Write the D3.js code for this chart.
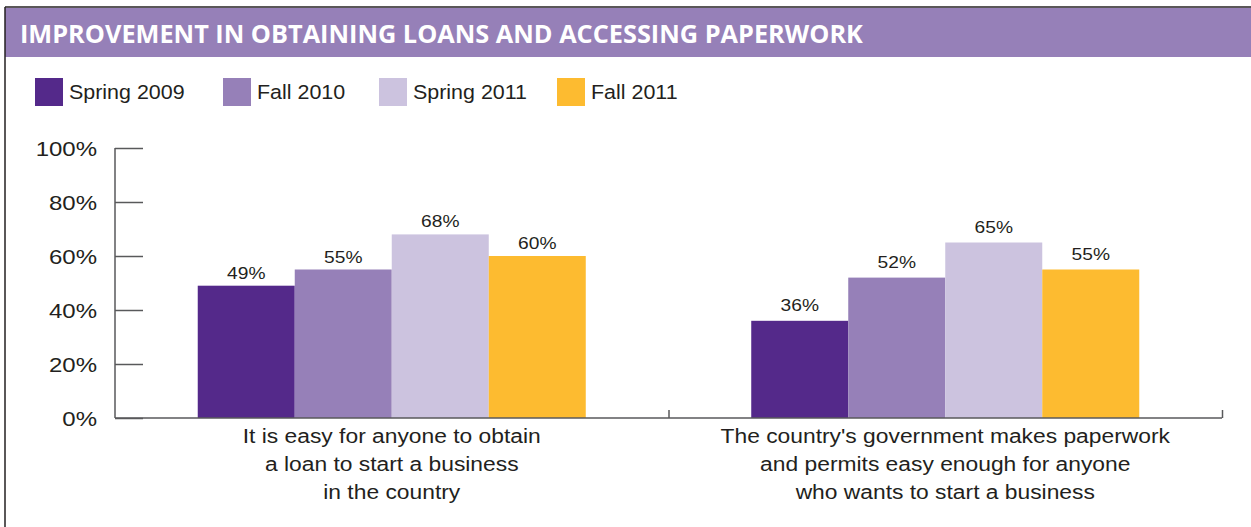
<!DOCTYPE html>
<html>
<head>
<meta charset="utf-8">
<script src="https://cdn.jsdelivr.net/npm/d3@7"></script>
<style>
  html, body { margin: 0; padding: 0; background: #fff; }
  svg { display: block; }
</style>
</head>
<body>
<script>
// Survey statements (wrapped onto three lines each)
const categories = [
  ["It is easy for anyone to obtain", "a loan to start a business", "in the country"],
  ["The country's government makes paperwork", "and permits easy enough for anyone", "who wants to start a business"]
];
const seriesNames = ["Spring 2009", "Fall 2010", "Spring 2011", "Fall 2011"];
const seriesColors = ["#54298a", "#9680b8", "#ccc3df", "#fdbb30"];
// Percent agreeing, one array per survey wave (same order as categories)
const spring2009 = [49, 36];
const fall2010 = [55, 52];
const spring2011 = [68, 65];
const fall2011 = [60, 55];
const yTicks = [0, 20, 40, 60, 80, 100];
const title = "IMPROVEMENT IN OBTAINING LOANS AND ACCESSING PAPERWORK";

const series = [spring2009, fall2010, spring2011, fall2011];

const W = 1251, H = 527;
const svg = d3.select("body").append("svg").attr("width", W).attr("height", H);
const textColor = "#231f20";
const axisColor = "#58595b";
const font = "'Liberation Sans', Arial, Helvetica, sans-serif";

// Text helper: horizontally widened sans-serif text
function label(parent, x, y, str, size, sx, anchor) {
  return parent.append("text")
    .attr("transform", `translate(${x},${y}) scale(${sx},1)`)
    .attr("text-anchor", anchor || "start")
    .attr("fill", textColor).attr("font-family", font).attr("font-size", size)
    .text(str);
}

// Frame and title band
svg.append("rect").attr("x", 5).attr("y", 8).attr("width", W - 5).attr("height", 49).attr("fill", "#9680b8");
svg.append("line").attr("x1", 5).attr("x2", W).attr("y1", 7).attr("y2", 7).attr("stroke", "#231f20").attr("stroke-width", 1.5);
svg.append("line").attr("x1", 5).attr("x2", 5).attr("y1", 7).attr("y2", H).attr("stroke", "#231f20").attr("stroke-width", 1.5);
svg.append("text").attr("x", 20).attr("y", 43)
  .attr("fill", "#fff").attr("font-family", "'Open Sans', sans-serif").attr("font-weight", 700)
  .attr("font-size", 25.3).text(title);

// Legend
const legendX = [35, 223, 379, 557];
const legend = svg.append("g");
seriesNames.forEach((name, i) => {
  const g = legend.append("g").attr("transform", `translate(${legendX[i]},78)`);
  g.append("rect").attr("width", 28).attr("height", 28).attr("fill", seriesColors[i]);
  label(g, 34, 20.5, name, 19.5, 1.1);
});

// Scales
const x0 = d3.scaleBand().domain(d3.range(categories.length)).range([115, 1222]).paddingInner(0).paddingOuter(0);
const x1 = d3.scaleBand().domain(d3.range(series.length)).range([0, x0.bandwidth()]).paddingOuter(0.853).paddingInner(0);
const y = d3.scaleLinear().domain([0, 100]).range([418, 148]);

// Y axis: ticks extend right from the axis line
const yAxis = svg.append("g").attr("transform", "translate(115,0)")
  .call(d3.axisRight(y).tickValues(yTicks).tickSize(28).tickFormat(""));
yAxis.select(".domain").remove();
yAxis.selectAll(".tick line").attr("stroke", axisColor).attr("stroke-width", 1.5);
svg.append("line").attr("x1", 115).attr("x2", 115).attr("y1", y(100)).attr("y2", y(0))
  .attr("stroke", axisColor).attr("stroke-width", 1.5);
const yLabels = svg.append("g");
yTicks.forEach(d => label(yLabels, 97, y(d) + 8, d + "%", 20, 1.2, "end"));

// Bars with value labels (label gap above the bar differs per group)
const labelGap = [7, 10];
const groups = svg.append("g").selectAll("g").data(categories).join("g")
  .attr("transform", (d, i) => `translate(${x0(i)},0)`);
groups.each(function (c, ci) {
  const g = d3.select(this);
  series.forEach((s, si) => {
    g.append("rect").attr("x", x1(si)).attr("y", y(s[ci]))
      .attr("width", x1.bandwidth()).attr("height", y(0) - y(s[ci]))
      .attr("fill", seriesColors[si]);
    label(g, x1(si) + x1.bandwidth() / 2, y(s[ci]) - labelGap[ci], s[ci] + "%", 16, 1.2, "middle");
  });
});

// X axis baseline with category dividers
const xAxis = svg.append("g").attr("transform", `translate(0,${y(0)})`)
  .call(d3.axisTop(d3.scaleLinear().domain([0, 2]).range([115, 1222])).tickValues([1, 2]).tickSize(8).tickFormat(""));
xAxis.select(".domain").attr("stroke", axisColor).attr("stroke-width", 1.5).attr("d", "M115,0H1222");
xAxis.selectAll(".tick line").attr("stroke", axisColor).attr("stroke-width", 1.5);

// Category labels
categories.forEach((lines, ci) => {
  const cx = x0(ci) + x0.bandwidth() / 2;
  lines.forEach((ln, li) => label(svg, cx, 443 + li * 28, ln, 19.5, 1.17, "middle"));
});
</script>
</body>
</html>
